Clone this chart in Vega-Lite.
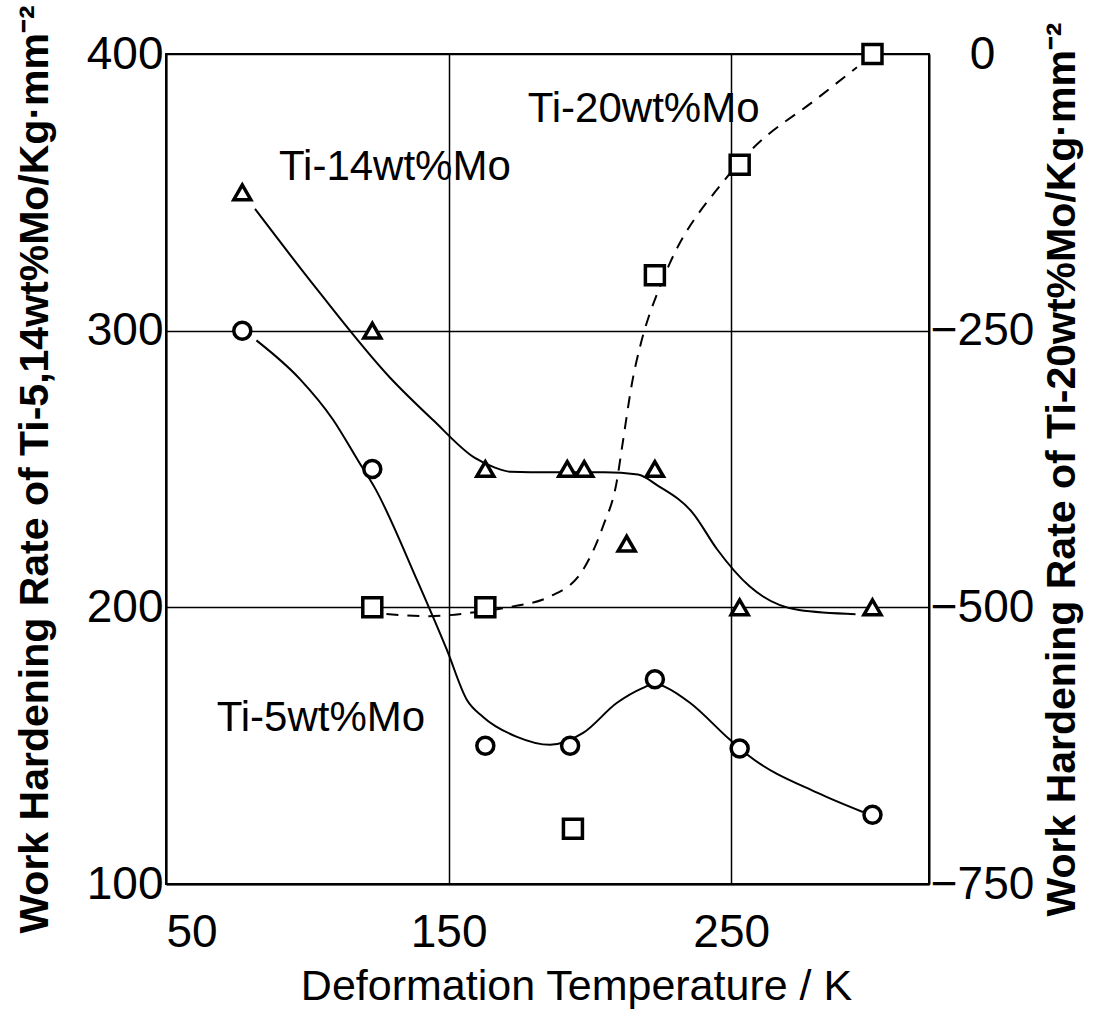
{
  "$schema": "https://vega.github.io/schema/vega-lite/v6.json",
  "width": 763,
  "height": 830,
  "autosize": "none",
  "padding": {"left": 166, "top": 54, "right": 172, "bottom": 135},
  "background": "white",
  "config": {
    "view": {"stroke": "black", "strokeWidth": 2},
    "axis": {
      "domainColor": "black", "domainWidth": 2,
      "gridColor": "black", "gridWidth": 1.5, "gridOpacity": 1,
      "ticks": false,
      "labelColor": "black", "titleColor": "black",
      "labelFont": "Liberation Sans", "titleFont": "Liberation Sans",
      "labelFontSize": 46
    }
  },
  "datasets": {
    "pts514": [
      {"series": "Ti-14wt%Mo", "T": 77, "W": 350},
      {"series": "Ti-14wt%Mo", "T": 123, "W": 300},
      {"series": "Ti-14wt%Mo", "T": 163, "W": 250},
      {"series": "Ti-14wt%Mo", "T": 192, "W": 250},
      {"series": "Ti-14wt%Mo", "T": 198, "W": 250},
      {"series": "Ti-14wt%Mo", "T": 213, "W": 223},
      {"series": "Ti-14wt%Mo", "T": 223, "W": 250},
      {"series": "Ti-14wt%Mo", "T": 253, "W": 200},
      {"series": "Ti-14wt%Mo", "T": 300, "W": 200},
      {"series": "Ti-5wt%Mo", "T": 77, "W": 300},
      {"series": "Ti-5wt%Mo", "T": 123, "W": 250},
      {"series": "Ti-5wt%Mo", "T": 163, "W": 150},
      {"series": "Ti-5wt%Mo", "T": 193, "W": 150},
      {"series": "Ti-5wt%Mo", "T": 223, "W": 174},
      {"series": "Ti-5wt%Mo", "T": 253, "W": 149},
      {"series": "Ti-5wt%Mo", "T": 300, "W": 125}
    ],
    "curves514": [
      {"series": "Ti-14wt%Mo", "T": 81.5, "W": 344},
      {"series": "Ti-14wt%Mo", "T": 103.4, "W": 315},
      {"series": "Ti-14wt%Mo", "T": 129.3, "W": 283},
      {"series": "Ti-14wt%Mo", "T": 144.5, "W": 267.7},
      {"series": "Ti-14wt%Mo", "T": 159.3, "W": 254},
      {"series": "Ti-14wt%Mo", "T": 166.4, "W": 250.5},
      {"series": "Ti-14wt%Mo", "T": 172, "W": 249},
      {"series": "Ti-14wt%Mo", "T": 186, "W": 248.8},
      {"series": "Ti-14wt%Mo", "T": 205, "W": 248.8},
      {"series": "Ti-14wt%Mo", "T": 217, "W": 248},
      {"series": "Ti-14wt%Mo", "T": 224, "W": 244},
      {"series": "Ti-14wt%Mo", "T": 236.5, "W": 234},
      {"series": "Ti-14wt%Mo", "T": 245, "W": 221},
      {"series": "Ti-14wt%Mo", "T": 256.6, "W": 207.5},
      {"series": "Ti-14wt%Mo", "T": 274, "W": 199},
      {"series": "Ti-14wt%Mo", "T": 294, "W": 197.5},
      {"series": "Ti-5wt%Mo", "T": 82, "W": 296.5},
      {"series": "Ti-5wt%Mo", "T": 97.4, "W": 282.5},
      {"series": "Ti-5wt%Mo", "T": 109, "W": 268},
      {"series": "Ti-5wt%Mo", "T": 118, "W": 253},
      {"series": "Ti-5wt%Mo", "T": 124, "W": 243},
      {"series": "Ti-5wt%Mo", "T": 138.8, "W": 209.9},
      {"series": "Ti-5wt%Mo", "T": 149.4, "W": 184.6},
      {"series": "Ti-5wt%Mo", "T": 156.5, "W": 166.5},
      {"series": "Ti-5wt%Mo", "T": 162.2, "W": 160.4},
      {"series": "Ti-5wt%Mo", "T": 174.2, "W": 153.2},
      {"series": "Ti-5wt%Mo", "T": 185.9, "W": 150.3},
      {"series": "Ti-5wt%Mo", "T": 197.6, "W": 154.6},
      {"series": "Ti-5wt%Mo", "T": 209.6, "W": 165.5},
      {"series": "Ti-5wt%Mo", "T": 218.8, "W": 170.9},
      {"series": "Ti-5wt%Mo", "T": 223, "W": 172.5},
      {"series": "Ti-5wt%Mo", "T": 227.3, "W": 170.9},
      {"series": "Ti-5wt%Mo", "T": 235.4, "W": 165.5},
      {"series": "Ti-5wt%Mo", "T": 249.6, "W": 152.1},
      {"series": "Ti-5wt%Mo", "T": 256.7, "W": 146},
      {"series": "Ti-5wt%Mo", "T": 280.4, "W": 133},
      {"series": "Ti-5wt%Mo", "T": 296.6, "W": 126}
    ],
    "pts20": [
      {"series": "Ti-20wt%Mo", "T": 123, "W": -500},
      {"series": "Ti-20wt%Mo", "T": 163, "W": -500},
      {"series": "Ti-20wt%Mo", "T": 194, "W": -700},
      {"series": "Ti-20wt%Mo", "T": 223, "W": -200},
      {"series": "Ti-20wt%Mo", "T": 253, "W": -100},
      {"series": "Ti-20wt%Mo", "T": 300, "W": 0}
    ],
    "curve20": [
      {"series": "Ti-20wt%Mo", "T": 128, "W": -506},
      {"series": "Ti-20wt%Mo", "T": 143, "W": -508},
      {"series": "Ti-20wt%Mo", "T": 157.6, "W": -505},
      {"series": "Ti-20wt%Mo", "T": 171, "W": -500},
      {"series": "Ti-20wt%Mo", "T": 186, "W": -490},
      {"series": "Ti-20wt%Mo", "T": 197.6, "W": -466},
      {"series": "Ti-20wt%Mo", "T": 204.6, "W": -427},
      {"series": "Ti-20wt%Mo", "T": 209.6, "W": -385},
      {"series": "Ti-20wt%Mo", "T": 211.4, "W": -355},
      {"series": "Ti-20wt%Mo", "T": 215.3, "W": -292},
      {"series": "Ti-20wt%Mo", "T": 217.7, "W": -265},
      {"series": "Ti-20wt%Mo", "T": 224.8, "W": -210},
      {"series": "Ti-20wt%Mo", "T": 228.3, "W": -189},
      {"series": "Ti-20wt%Mo", "T": 247, "W": -116},
      {"series": "Ti-20wt%Mo", "T": 257, "W": -87},
      {"series": "Ti-20wt%Mo", "T": 280, "W": -41},
      {"series": "Ti-20wt%Mo", "T": 294.5, "W": -12}
    ],
    "labels": [
      {"label": "Ti-14wt%Mo", "T": 131, "W": 359},
      {"label": "Ti-20wt%Mo", "T": 219, "W": 380},
      {"label": "Ti-5wt%Mo", "T": 104.8, "W": 160}
    ]
  },
  "encoding": {
    "x": {
      "field": "T", "type": "quantitative",
      "scale": {"domain": [50, 320], "nice": false, "zero": false},
      "axis": {
        "values": [50, 150, 250], "grid": true,
        "title": "Deformation Temperature / K",
        "titleFontSize": 43, "titleFontWeight": "normal",
        "labelPadding": 26, "titlePadding": 10, "titleX": 410,
        "labelFlush": true, "labelFlushOffset": 0
      }
    }
  },
  "layer": [
    {
      "encoding": {
        "y": {
          "field": "W", "type": "quantitative",
          "scale": {"domain": [100, 400], "nice": false, "zero": false},
          "axis": {
            "values": [100, 200, 300, 400], "grid": true,
            "labelPadding": 3,
            "title": "Work Hardening Rate of Ti-5,14wt%Mo/Kg·mm⁻²",
            "titleFontSize": 41, "titleFontWeight": "bold", "titlePadding": 30
          }
        }
      },
      "layer": [
        {
          "data": {"name": "curves514"},
          "mark": {"type": "line", "interpolate": "monotone", "stroke": "black", "strokeWidth": 2},
          "encoding": {"detail": {"field": "series"}}
        },
        {
          "data": {"name": "pts514"},
          "mark": {"type": "point", "filled": true, "fill": "white", "stroke": "black", "strokeWidth": 3.5, "opacity": 1, "size": 289},
          "encoding": {
            "shape": {"field": "series", "type": "nominal", "scale": {"domain": ["Ti-5wt%Mo", "Ti-14wt%Mo"], "range": ["circle", "triangle-up"]}, "legend": null}
          }
        },
        {
          "data": {"name": "labels"},
          "mark": {"type": "text", "font": "Liberation Sans", "fontSize": 42, "color": "black"},
          "encoding": {"text": {"field": "label"}}
        }
      ]
    },
    {
      "encoding": {
        "y": {
          "field": "W", "type": "quantitative",
          "scale": {"domain": [-750, 0], "nice": false, "zero": false},
          "axis": {
            "orient": "right", "values": [0, -250, -500, -750], "grid": false,
            "labelAlign": "center", "labelPadding": 53,
            "title": "Work Hardening Rate of Ti-20wt%Mo/Kg·mm⁻²",
            "titleAngle": 270, "titleFontSize": 41, "titleFontWeight": "bold", "titlePadding": 50
          }
        }
      },
      "layer": [
        {
          "data": {"name": "curve20"},
          "mark": {"type": "line", "interpolate": "monotone", "stroke": "black", "strokeWidth": 2, "strokeDash": [12, 9]},
          "encoding": {"detail": {"field": "series"}}
        },
        {
          "data": {"name": "pts20"},
          "mark": {"type": "point", "shape": "square", "filled": true, "fill": "white", "stroke": "black", "strokeWidth": 3.5, "opacity": 1, "size": 361},
          "encoding": {}
        }
      ]
    }
  ],
  "resolve": {"scale": {"y": "independent"}}
}
